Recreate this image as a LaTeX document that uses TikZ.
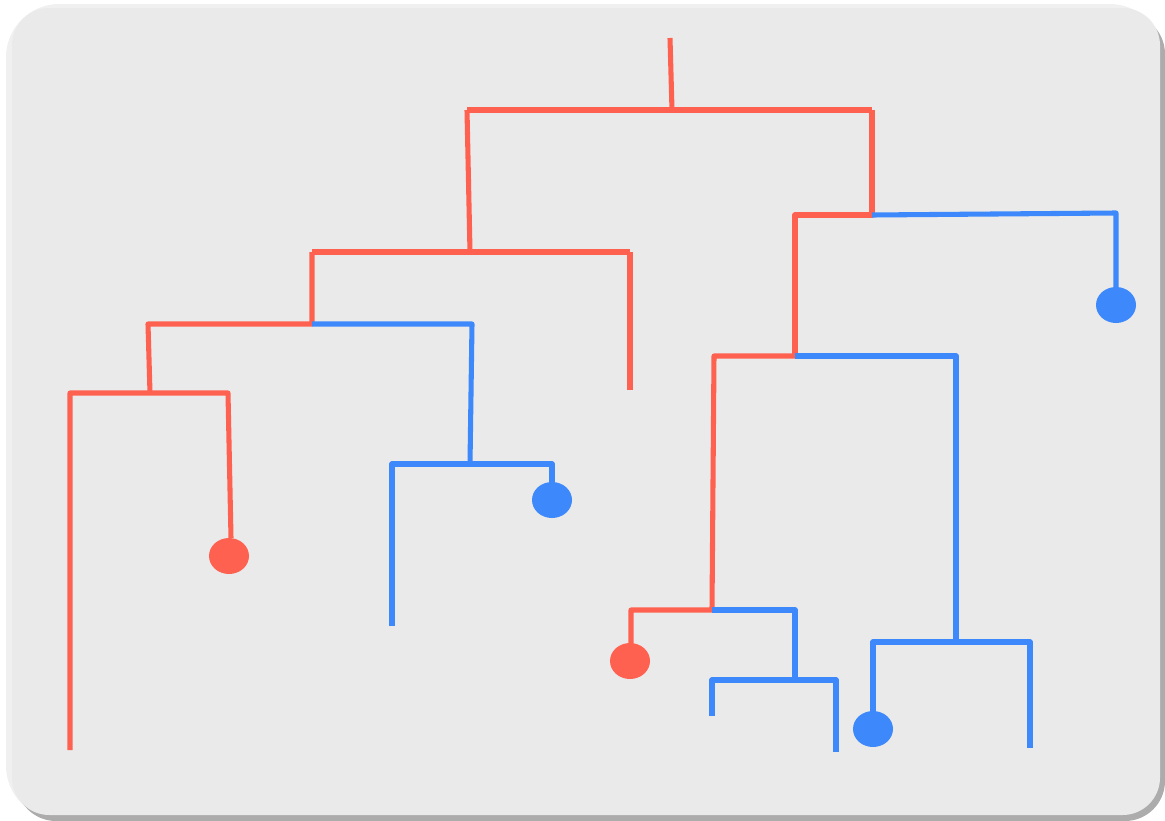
\documentclass[tikz,border=0pt]{standalone}
\usepackage{tikz}
\definecolor{treered}{HTML}{FF6150}
\definecolor{treeblue}{HTML}{3D88FA}
\definecolor{cardgray}{HTML}{EAEAEA}

\begin{document}
\begin{tikzpicture}[x=0.75pt, y=-0.75pt, line join=round,
	red/.style={draw=treered, line width=3.8pt},
	blue/.style={draw=treeblue, line width=3.8pt},
	reddot/.style={fill=treered},
	bluedot/.style={fill=treeblue}]
	\useasboundingbox (0,0) rectangle (1165,821);
	% card and its shadow
	\fill[gray!12, rounded corners=40pt] (6,4) rectangle (1163,819);
	\fill[gray!65, rounded corners=30pt] (16,14) rectangle (1165,821);
	\fill[cardgray, rounded corners=28pt] (12,8) rectangle (1160,815);
	% root
	\draw[red] (670,38) -- (672,110);
	\draw[red] (467,110) -- (872,110);
	% left subtree
	\draw[red] (467,110) -- (470,252);
	\draw[red] (312,252) -- (630,252);
	\draw[red] (630,252) -- (630,390);
	\draw[red] (312,252) -- (312,324) -- (148,324) -- (150,393);
	\draw[red] (70,750) -- (70,393) -- (228,393) -- (231,538);
	\fill[reddot] (229,556) ellipse (20 and 18);
	\draw[blue] (312,324) -- (472,324) -- (470,464);
	\draw[blue] (392,626) -- (392,464) -- (552,464) -- (552,485);
	\fill[bluedot] (552,500) ellipse (20 and 18);
	% right subtree
	\draw[red] (872,110) -- (872,215) -- (795,215) -- (795,356);
	\draw[blue] (872,215) -- (1116,213) -- (1116,290);
	\fill[bluedot] (1116,305) ellipse (20 and 18);
	\draw[red] (795,356) -- (714,356) -- (712,610) -- (631,610) -- (631,645);
	\fill[reddot] (630,661) ellipse (20 and 18);
	\draw[blue] (712,610) -- (795,610) -- (795,680);
	\draw[blue] (712,716) -- (712,680) -- (836,680) -- (836,752);
	\draw[blue] (795,356) -- (956,356) -- (956,642);
	\draw[blue] (873,712) -- (873,642) -- (1030,642) -- (1030,748);
	\fill[bluedot] (873,729) ellipse (20 and 18);
\end{tikzpicture}
\end{document}
